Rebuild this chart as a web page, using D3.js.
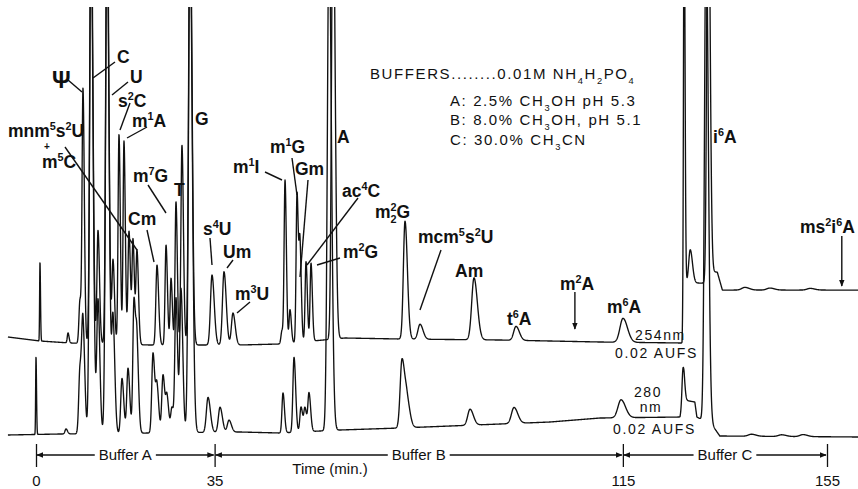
<!DOCTYPE html>
<html lang="en">
<head>
<meta charset="utf-8">
<title>HPLC of tRNA nucleosides</title>
<script src="https://cdn.jsdelivr.net/npm/d3@7"></script>
<style>
  body { margin: 0; background: #fff; }
  svg { display: block; }
  .trace { fill: none; stroke: #111; stroke-width: 1.35; stroke-linejoin: round; }
  .lbl { font-family: "Liberation Sans", Arial, sans-serif; font-weight: bold; fill: #111; }
  .note { font-family: "Liberation Sans", Arial, sans-serif; fill: #111; letter-spacing: 1.6px; }
  .narrow { font-family: "Liberation Sans Narrow", "Arial Narrow", "Liberation Sans", sans-serif; fill: #111; }
  .ptr { stroke: #111; stroke-width: 1.4; }
</style>
</head>
<body>
<script>
// time axis (min.)
const tickTimes = [0, 35, 115, 155];
const bufferNames = ["Buffer A", "Buffer B", "Buffer C"];

// upper trace, 254 nm: retention time (min), height (% full scale), width (min)
const upperTimes   = [0.78, 6.27, 8.62, 9.21, 10.78, 12.15, 13.91, 15.09, 16.26, 17.24, 18.22, 19.01, 19.79, 23.71, 25.48, 26.46, 27.43, 28.6, 30.18, 34.49, 36.84, 38.6, 48.21, 48.8, 49.77, 51.15, 51.73, 52.91, 53.89, 58.2, 72.31, 75.25, 85.83, 94.06, 115.03, 127.0, 128.2, 131.7, 138.9, 143.8, 151.7];
const upperHeights = [23.7, 3, 13, 75, 140, 34, 140, 25, 63, 61, 34, 31, 28, 24, 30, 20, 43, 60, 140, 21, 22, 9.6, 4, 48.6, 10, 45, 28, 24, 23.4, 140, 35.4, 4.5, 18.6, 4.2, 7.2, 120, 10, 140, 0.8, 0.6, 0.5];
const upperWidths  = [0.07, 0.14, 0.2, 0.18, 0.24, 0.2, 0.24, 0.2, 0.18, 0.18, 0.2, 0.19, 0.2, 0.22, 0.19, 0.18, 0.18, 0.2, 0.26, 0.3, 0.3, 0.3, 0.2, 0.18, 0.18, 0.18, 0.18, 0.18, 0.18, 0.28, 0.32, 0.4, 0.45, 0.45, 0.6, 0.12, 0.3, 0.25, 0.6, 0.6, 0.6];
// upper baseline drift (time, % FS)
const upperBaseTimes  = [-5.5, 0.78, 6.66, 22.34, 39.98, 47.82, 60.55, 71.33, 90.93, 110.5, 126.6, 127.0, 131.1, 132.5, 133.5, 134.5, 161.2];
const upperBaseValues = [1.8, 0.6, 0, -0.6, -0.6, -0.3, 1.5, 1.2, 0.9, 0.3, 0, 18, 18, 21.3, 21.3, 15.9, 15.9];

// lower trace, 280 nm
const lowerTimes   = [0, 5.88, 8.62, 9.21, 10.78, 12.15, 13.91, 15.09, 16.85, 18.03, 19.2, 19.79, 22.93, 23.71, 24.89, 25.67, 26.65, 27.43, 28.41, 30.18, 33.71, 36.06, 37.82, 48.4, 50.56, 51.93, 52.71, 53.5, 57.42, 71.72, 72.7, 85.05, 93.67, 114.64, 126.79, 131.3, 140.2, 146.1, 150.3];
const lowerHeights = [23.4, 1.5, 19.5, 31, 150, 40, 150, 34, 16.5, 19.5, 40, 24, 24, 13.5, 17.4, 10.5, 7.5, 40, 43, 150, 10.5, 7.5, 3.6, 12, 22.5, 7.5, 7, 11.4, 150, 20.4, 7.8, 4.8, 4.8, 5.4, 11, 150, 0.6, 0.5, 0.6];
const lowerWidths  = [0.07, 0.2, 0.24, 0.24, 0.28, 0.24, 0.28, 0.24, 0.24, 0.24, 0.22, 0.22, 0.24, 0.24, 0.24, 0.24, 0.24, 0.22, 0.24, 0.3, 0.32, 0.32, 0.32, 0.2, 0.22, 0.22, 0.22, 0.22, 0.32, 0.36, 0.4, 0.45, 0.5, 0.6, 0.2, 0.3, 0.6, 0.6, 0.6];
const lowerBaseTimes  = [-5.5, 4.7, 39.98, 47.82, 59.57, 71.33, 81.13, 100.7, 110.5, 126.2, 127.0, 129.1, 129.5, 132.5, 134.0, 161.2];
const lowerBaseValues = [0, 0.3, 0.9, 0.6, 1.5, 2.1, 2.7, 3.9, 5.1, 5.4, 10.5, 9.9, 5.4, 3, -0.3, -0.6];

// peak labels (^ superscript, _ subscript)
const labelText = ["Ψ", "C", "U", "s^2C", "m^1A", "G", "mnm^5s^2U", "+", "m^5C", "m^7G", "T", "Cm", "s^4U", "Um", "m^3U", "m^1I", "m^1G", "Gm", "A", "ac^4C", "m^2_2G", "m^2G", "mcm^5s^2U", "Am", "t^6A", "m^2A", "m^6A", "i^6A", "ms^2i^6A"];

const w = 858, h = 489;
const x = d3.scaleLinear().domain([0, 155]).range([36, 827]);
const yU = d3.scaleLinear().domain([0, 100]).range([343, 10]);
const yL = d3.scaleLinear().domain([0, 100]).range([435, 102]);

const svg = d3.select("body").append("svg").attr("width", w).attr("height", h);
svg.append("defs").append("clipPath").attr("id", "clip")
  .append("rect").attr("x", 0).attr("y", 7).attr("width", w).attr("height", h);
const mk = svg.select("defs").append("marker").attr("id", "arrow")
  .attr("viewBox", "0 0 10 10").attr("refX", 9).attr("refY", 5)
  .attr("markerWidth", 7).attr("markerHeight", 7).attr("orient", "auto-start-reverse")
  .attr("markerUnits", "userSpaceOnUse");
mk.append("path").attr("d", "M0,1L10,5L0,9Z").attr("fill", "#111");

function buildTrace(times, heights, widths, baseT, baseV) {
  const base = d3.scaleLinear().domain(baseT).range(baseV).clamp(true);
  return d3.range(-5.5, 161.2, 0.03).map(t => {
    let v = base(t);
    times.forEach((c, i) => {
      const s = t < c ? widths[i] : widths[i] * 1.45;   // tailing on the right
      const z = (t - c) / s;
      if (Math.abs(z) < 9) v += heights[i] * Math.exp(-0.5 * z * z);
    });
    return [t, v];
  });
}

const upper = buildTrace(upperTimes, upperHeights, upperWidths, upperBaseTimes, upperBaseValues);
const lower = buildTrace(lowerTimes, lowerHeights, lowerWidths, lowerBaseTimes, lowerBaseValues);

const plot = svg.append("g").attr("clip-path", "url(#clip)");
plot.append("path").attr("class", "trace")
  .attr("d", d3.line().x(d => x(d[0])).y(d => yU(d[1]))(upper));
plot.append("path").attr("class", "trace")
  .attr("d", d3.line().x(d => x(d[0])).y(d => yL(d[1]))(lower));

// rich text with ^sup and _sub (sub right after sup is stacked)
function rich(g, str, px, py, size, cls) {
  const t = g.append("text").attr("class", cls).attr("x", px).attr("y", py).attr("font-size", size);
  const re = /\^(.)|_(.)|([^\^_]+)/g;
  let m, lastSup = false;
  while ((m = re.exec(str))) {
    if (m[1] !== undefined) {
      t.append("tspan").attr("y", py - size * 0.42).attr("font-size", size * 0.62).text(m[1]);
      lastSup = true;
    } else if (m[2] !== undefined) {
      const sp = t.append("tspan").attr("y", py + size * 0.3).attr("font-size", size * 0.62).text(m[2]);
      if (lastSup) sp.attr("dx", -size * 0.62 * 0.56);
      lastSup = false;
    } else {
      t.append("tspan").attr("y", py).text(m[3]);
      lastSup = false;
    }
  }
  return t;
}

// label positions in pixels
const labelPos = [[52, 88], [117, 63], [130, 83], [118, 107], [132, 127], [195, 125], [8, 137], [44, 150], [42, 168], [133, 182], [174, 196], [128, 225], [203, 235], [223, 258], [235, 300], [233, 173], [270, 153], [295, 175], [337, 143], [342, 197], [375, 218], [343, 258], [418, 243], [455, 277], [507, 325], [560, 290], [607, 313], [713, 143], [800, 233]];
const lg = svg.append("g");
labelText.forEach((s, i) => {
  const size = s === "Ψ" ? 23 : s === "+" ? 10 : 17.5;
  rich(lg, s, labelPos[i][0], labelPos[i][1], size, "lbl");
});

// pointer lines
const pointers = [[68, 80, 82, 92], [115, 62, 93, 78], [128, 82, 112, 95], [130, 103, 120, 130], [147, 127, 127, 138],
  [65, 147, 137, 250], [148, 185, 166, 213], [147, 230, 154, 262], [210, 238, 212, 265], [233, 260, 227, 268],
  [250, 302, 237, 313], [265, 172, 282, 180], [292, 158, 297, 195], [308, 180, 300, 277], [358, 198, 307, 265],
  [340, 258, 317, 265], [441, 250, 420, 310]];
lg.selectAll("line.ptr").data(pointers).join("line").attr("class", "ptr")
  .attr("x1", d => d[0]).attr("y1", d => d[1]).attr("x2", d => d[2]).attr("y2", d => d[3]);
// arrows for m2A and ms2i6A
lg.selectAll("line.arw").data([[105.6, 292, 329], [157.9, 236, 286]]).join("line").attr("class", "ptr arw")
  .attr("x1", d => x(d[0])).attr("x2", d => x(d[0])).attr("y1", d => d[1]).attr("y2", d => d[2])
  .attr("marker-end", "url(#arrow)");

// detector notes
rich(svg, "254nm", 635, 340, 14, "note").style("letter-spacing", "1.6px");
rich(svg, "0.02 AUFS", 615, 358, 14, "note").style("letter-spacing", "1.7px");
svg.append("text").attr("class", "note").attr("x", 648).attr("y", 397).attr("font-size", 14).attr("text-anchor", "middle").text("280");
svg.append("text").attr("class", "note").attr("x", 651).attr("y", 412).attr("font-size", 14).attr("text-anchor", "middle").text("nm");
rich(svg, "0.02 AUFS", 613, 434, 14, "note").style("letter-spacing", "1.7px");

// buffer legend
const note = svg.append("g");
rich(note, "BUFFERS........0.01M NH_4H_2PO_4", 370, 79, 15, "note");
rich(note, "A: 2.5% CH_3OH  pH 5.3", 450, 106, 15, "note");
rich(note, "B: 8.0%  CH_3OH, pH 5.1", 450, 125, 15, "note");
rich(note, "C: 30.0% CH_3CN", 450, 145, 15, "note");

// time axis
const axis = svg.append("g").attr("transform", "translate(0,467)")
  .call(d3.axisBottom(x).tickValues(tickTimes).tickSizeInner(-23).tickSizeOuter(0).tickPadding(8).tickFormat(d3.format("d")));
axis.select(".domain").remove();
axis.selectAll(".tick line").attr("stroke", "#111").attr("stroke-width", 1.3);
axis.selectAll(".tick text").attr("class", "narrow").attr("font-size", 15).attr("fill", "#111").attr("font-family", null);

// buffer spans with arrows
const spanY = 455;
bufferNames.forEach((name, i) => {
  const a = x(tickTimes[i]), b = x(tickTimes[i + 1]);
  const t = svg.append("text").attr("class", "narrow").attr("x", (a + b) / 2).attr("y", spanY + 5)
    .attr("font-size", 15).attr("text-anchor", "middle").text(name);
  const tw = t.node().getComputedTextLength();
  svg.append("line").attr("class", "ptr").attr("stroke-width", 1.1)
    .attr("x1", (a + b) / 2 - tw / 2 - 4).attr("x2", a + 1).attr("y1", spanY).attr("y2", spanY).attr("marker-end", "url(#arrow)");
  svg.append("line").attr("class", "ptr").attr("stroke-width", 1.1)
    .attr("x1", (a + b) / 2 + tw / 2 + 4).attr("x2", b - 1).attr("y1", spanY).attr("y2", spanY).attr("marker-end", "url(#arrow)");
});
svg.append("text").attr("class", "narrow").attr("x", 330).attr("y", 474).attr("font-size", 15)
  .attr("text-anchor", "middle").text("Time (min.)");
</script>
</body>
</html>
